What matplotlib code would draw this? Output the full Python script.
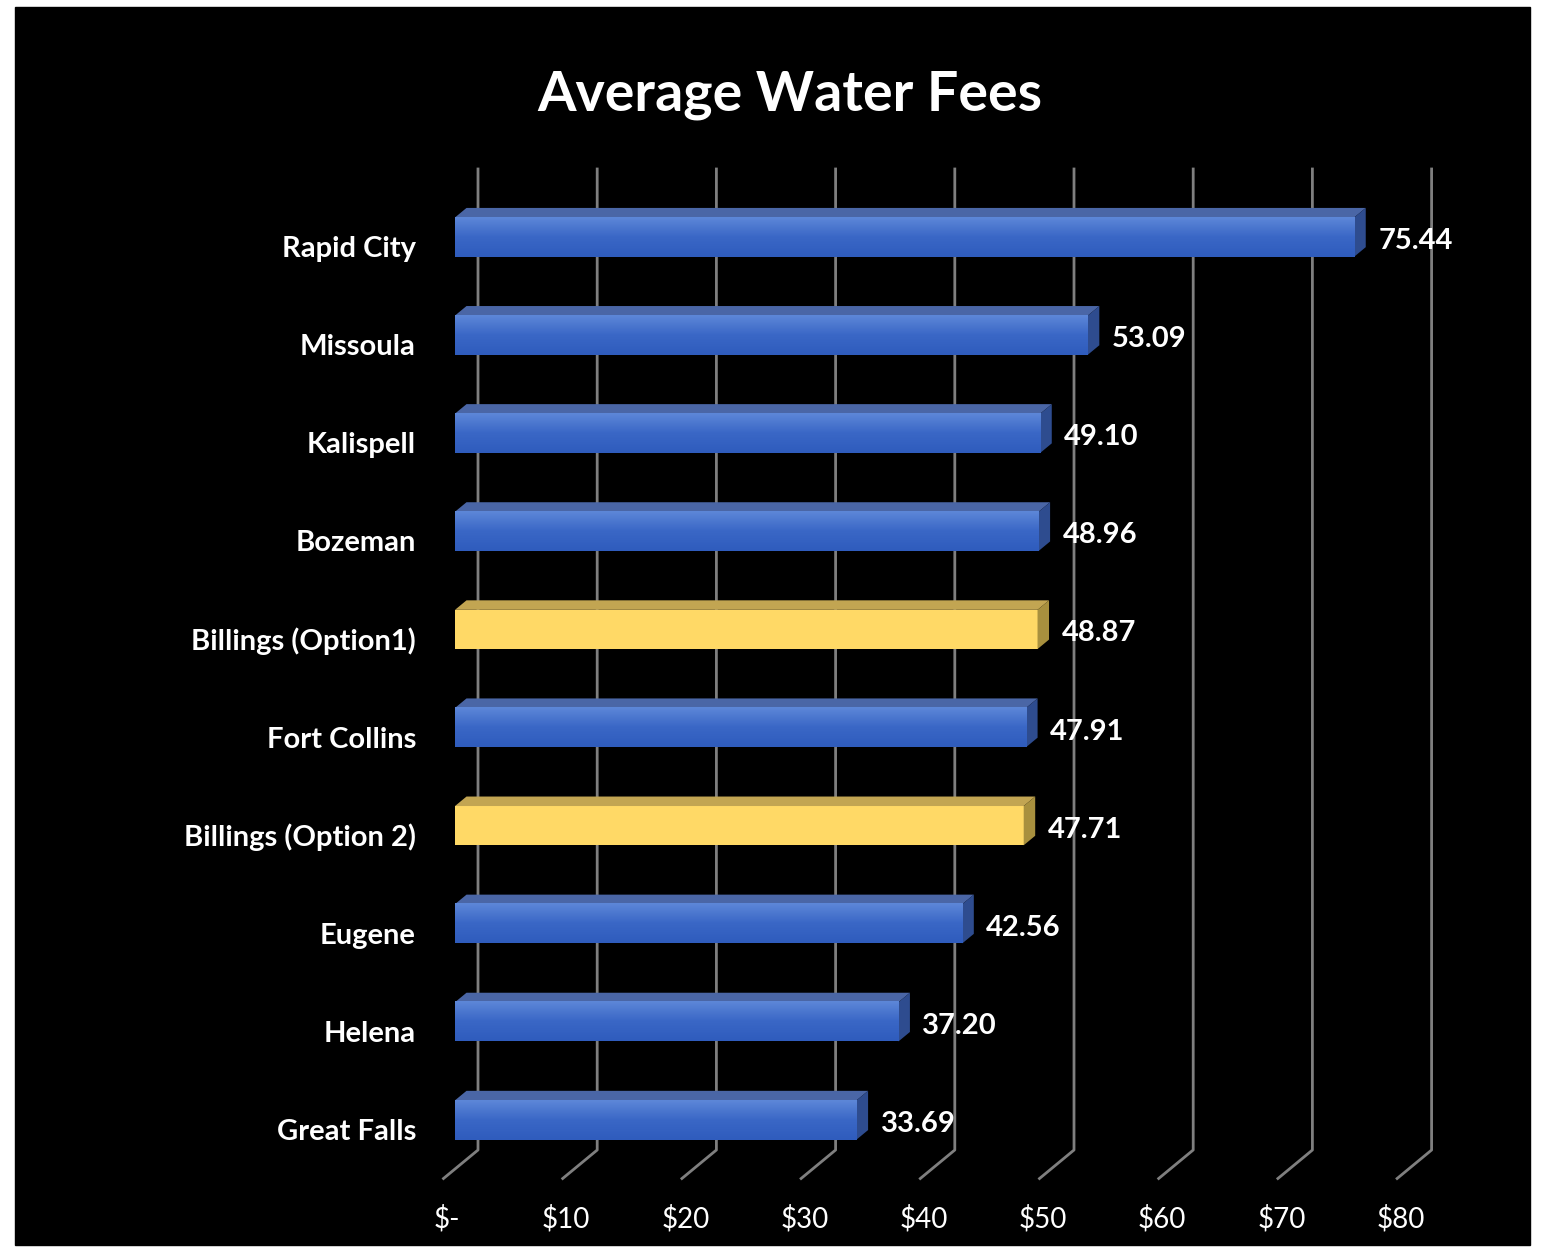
import numpy as np
import matplotlib
matplotlib.use("Agg")
import matplotlib.pyplot as plt
from matplotlib.patches import Polygon, Rectangle
from matplotlib.lines import Line2D
from matplotlib.colors import LinearSegmentedColormap
from matplotlib.transforms import IdentityTransform

# data
cities = ["Rapid City", "Missoula", "Kalispell", "Bozeman", "Billings (Option1)",
          "Fort Collins", "Billings (Option 2)", "Eugene", "Helena", "Great Falls"]
fees = [75.44, 53.09, 49.10, 48.96, 48.87, 47.91, 47.71, 42.56, 37.20, 33.69]
is_billings = [False, False, False, False, True, False, True, False, False, False]
ticks = [0, 10, 20, 30, 40, 50, 60, 70, 80]
tick_labels = ["$-", "$10", "$20", "$30", "$40", "$50", "$60", "$70", "$80"]

plt.rcParams['font.family'] = ['Lato', 'DejaVu Sans']

W, H = 1542, 1247
fig = plt.figure(figsize=(W / 100, H / 100), dpi=100, facecolor='white')
# black chart area inside a thin white border
fig.patches.append(Rectangle((15 / W, 2 / H), 1515 / W, 1238 / H,
                             transform=fig.transFigure, color='black', zorder=-5))

ax = fig.add_axes([455 / W, 1 - 1169 / H, 953.6 / W, 981 / H])
ax.set_zorder(2)
ax.set_xlim(0, 80)
ax.set_ylim(9.5, -0.5)
ax.set_autoscale_on(False)
ax.axis('off')

# depth vector of the fake 3d (pixels, one unit = bar depth)
depth = np.array([11.5, 9.5])


def disp(x, y, d):
    return ax.transData.transform((x, y)) + d * depth


# back wall gridlines + floor diagonals
for t in ticks:
    pts = np.array([disp(t, -0.5, 2), disp(t, 9.5, 2), disp(t, 9.5, -1)])
    ax.add_line(Line2D(pts[:, 0], pts[:, 1], transform=IdentityTransform(),
                       color='#7f7f7f', lw=2, zorder=1, clip_on=False))

blue_cmap = LinearSegmentedColormap.from_list('b', ['#5d87d8', '#3a67c6', '#2f5cbd'])
grad = np.linspace(0, 1, 60).reshape(-1, 1)

bh = 0.4
for i, (v, yel) in enumerate(zip(fees, is_billings)):
    if yel:
        front, top, side = '#ffd966', '#c2a552', '#a8903e'
    else:
        front, top, side = '#4473cf', '#4a66a6', '#2e4c8f'
    ax.barh(i, v, height=bh, color=front, zorder=3)
    if not yel:
        ax.imshow(grad, cmap=blue_cmap, aspect='auto', zorder=3.1,
                  extent=[0, v, i + bh / 2, i - bh / 2], interpolation='bilinear')
    top_face = [disp(0, i - bh / 2, 0), disp(v, i - bh / 2, 0),
                disp(v, i - bh / 2, 1), disp(0, i - bh / 2, 1)]
    side_face = [disp(v, i - bh / 2, 0), disp(v, i + bh / 2, 0),
                 disp(v, i + bh / 2, 1), disp(v, i - bh / 2, 1)]
    ax.add_patch(Polygon(top_face, closed=True, transform=IdentityTransform(),
                         facecolor=top, edgecolor='none', zorder=3, clip_on=False))
    ax.add_patch(Polygon(side_face, closed=True, transform=IdentityTransform(),
                         facecolor=side, edgecolor='none', zorder=3, clip_on=False))
    # value label
    ax.annotate(f"{v:.2f}", xy=(v, i), xytext=(24 * 0.72, -4 * 0.72),
                textcoords='offset points', ha='left', va='center',
                color='white', fontsize=21, fontweight='bold', zorder=5,
                annotation_clip=False)
    # category label
    ax.annotate(cities[i], xy=(0, i), xytext=(-39 * 0.72, -12 * 0.72),
                textcoords='offset points', ha='right', va='center',
                color='white', fontsize=21, fontweight='bold',
                annotation_clip=False)

# x tick labels at the front of the floor
for t, lab in zip(ticks, tick_labels):
    ax.annotate(lab, xy=(t, 9.5), xytext=(-8 * 0.72, -50 * 0.72),
                textcoords='offset points', ha='center', va='center',
                color='white', fontsize=20, annotation_clip=False)

fig.text(790 / W, 1 - 95 / H, "Average Water Fees", ha='center', va='center',
         color='white', fontsize=40, fontweight='bold')

fig.savefig("out.png", dpi=100, facecolor=fig.get_facecolor())
